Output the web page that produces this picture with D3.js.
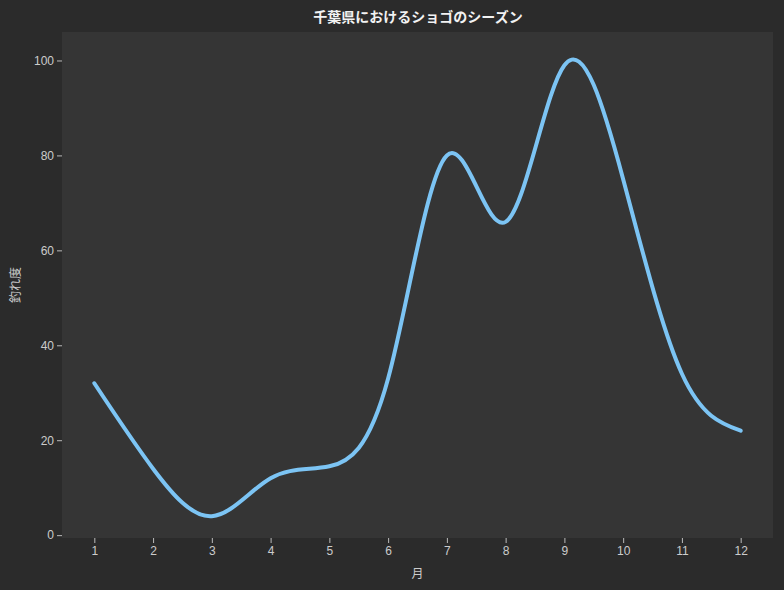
<!DOCTYPE html>
<html><head><meta charset="utf-8">
<script src="https://cdn.jsdelivr.net/npm/d3@7"></script>
<style>body{margin:0;background:#2b2b2b;font-family:"Noto Sans CJK JP","DejaVu Sans",sans-serif;}</style>
</head><body><svg id="c" width="784" height="590"></svg>
<script>
const months = [1,2,3,4,5,6,7,8,9,10,11,12];
const catchRate = [32,14,4,12,14.5,33,80,66,99,75,34,22];
const yTicks = [0,20,40,60,80,100];

const svg = d3.select('#c');
const m = {l:62, r:11, t:32, b:52};
const W = 784, H = 590;
svg.append('rect').attr('width',W).attr('height',H).attr('fill','#2b2b2b');
svg.append('rect').attr('x',m.l).attr('y',m.t).attr('width',W-m.l-m.r).attr('height',H-m.t-m.b).attr('fill','#353535');

const x = d3.scaleLinear().domain([0.45,12.55]).range([m.l, W-m.r]);
const y = d3.scaleLinear().domain([-0.6,106]).range([H-m.b, m.t]);

const xa = svg.append('g').attr('transform',`translate(0,${H-m.b})`)
  .call(d3.axisBottom(x).tickValues(months).tickFormat(d3.format('d')).tickSize(5));
const ya = svg.append('g').attr('transform',`translate(${m.l},0)`)
  .call(d3.axisLeft(y).tickValues(yTicks).tickSize(5));
[xa,ya].forEach(a=>{
  a.select('.domain').remove();
  a.selectAll('line').attr('stroke','#bbb');
  a.selectAll('text').attr('fill','#ccc').style('font-size','12px');
});

const line = d3.line().x((d,i)=>x(months[i])).y(d=>y(d)).curve(d3.curveNatural);
svg.append('path').datum(catchRate).attr('d',line).attr('fill','none')
  .attr('stroke','#7cc4f4').attr('stroke-width',4).attr('stroke-linecap','round');

svg.append('text').attr('x',W/2+26).attr('y',22).attr('text-anchor','middle')
  .attr('fill','#f2f2f2').style('font-size','14px').style('font-weight','bold')
  .text('千葉県におけるショゴのシーズン');
svg.append('text').attr('x',(m.l+W-m.r)/2).attr('y',578).attr('text-anchor','middle')
  .attr('fill','#ccc').style('font-size','12px').text('月');
svg.append('text').attr('transform',`translate(20,${(m.t+H-m.b)/2}) rotate(-90)`)
  .attr('text-anchor','middle').attr('fill','#ccc').style('font-size','12px').text('釣れ度');
</script></body></html>
